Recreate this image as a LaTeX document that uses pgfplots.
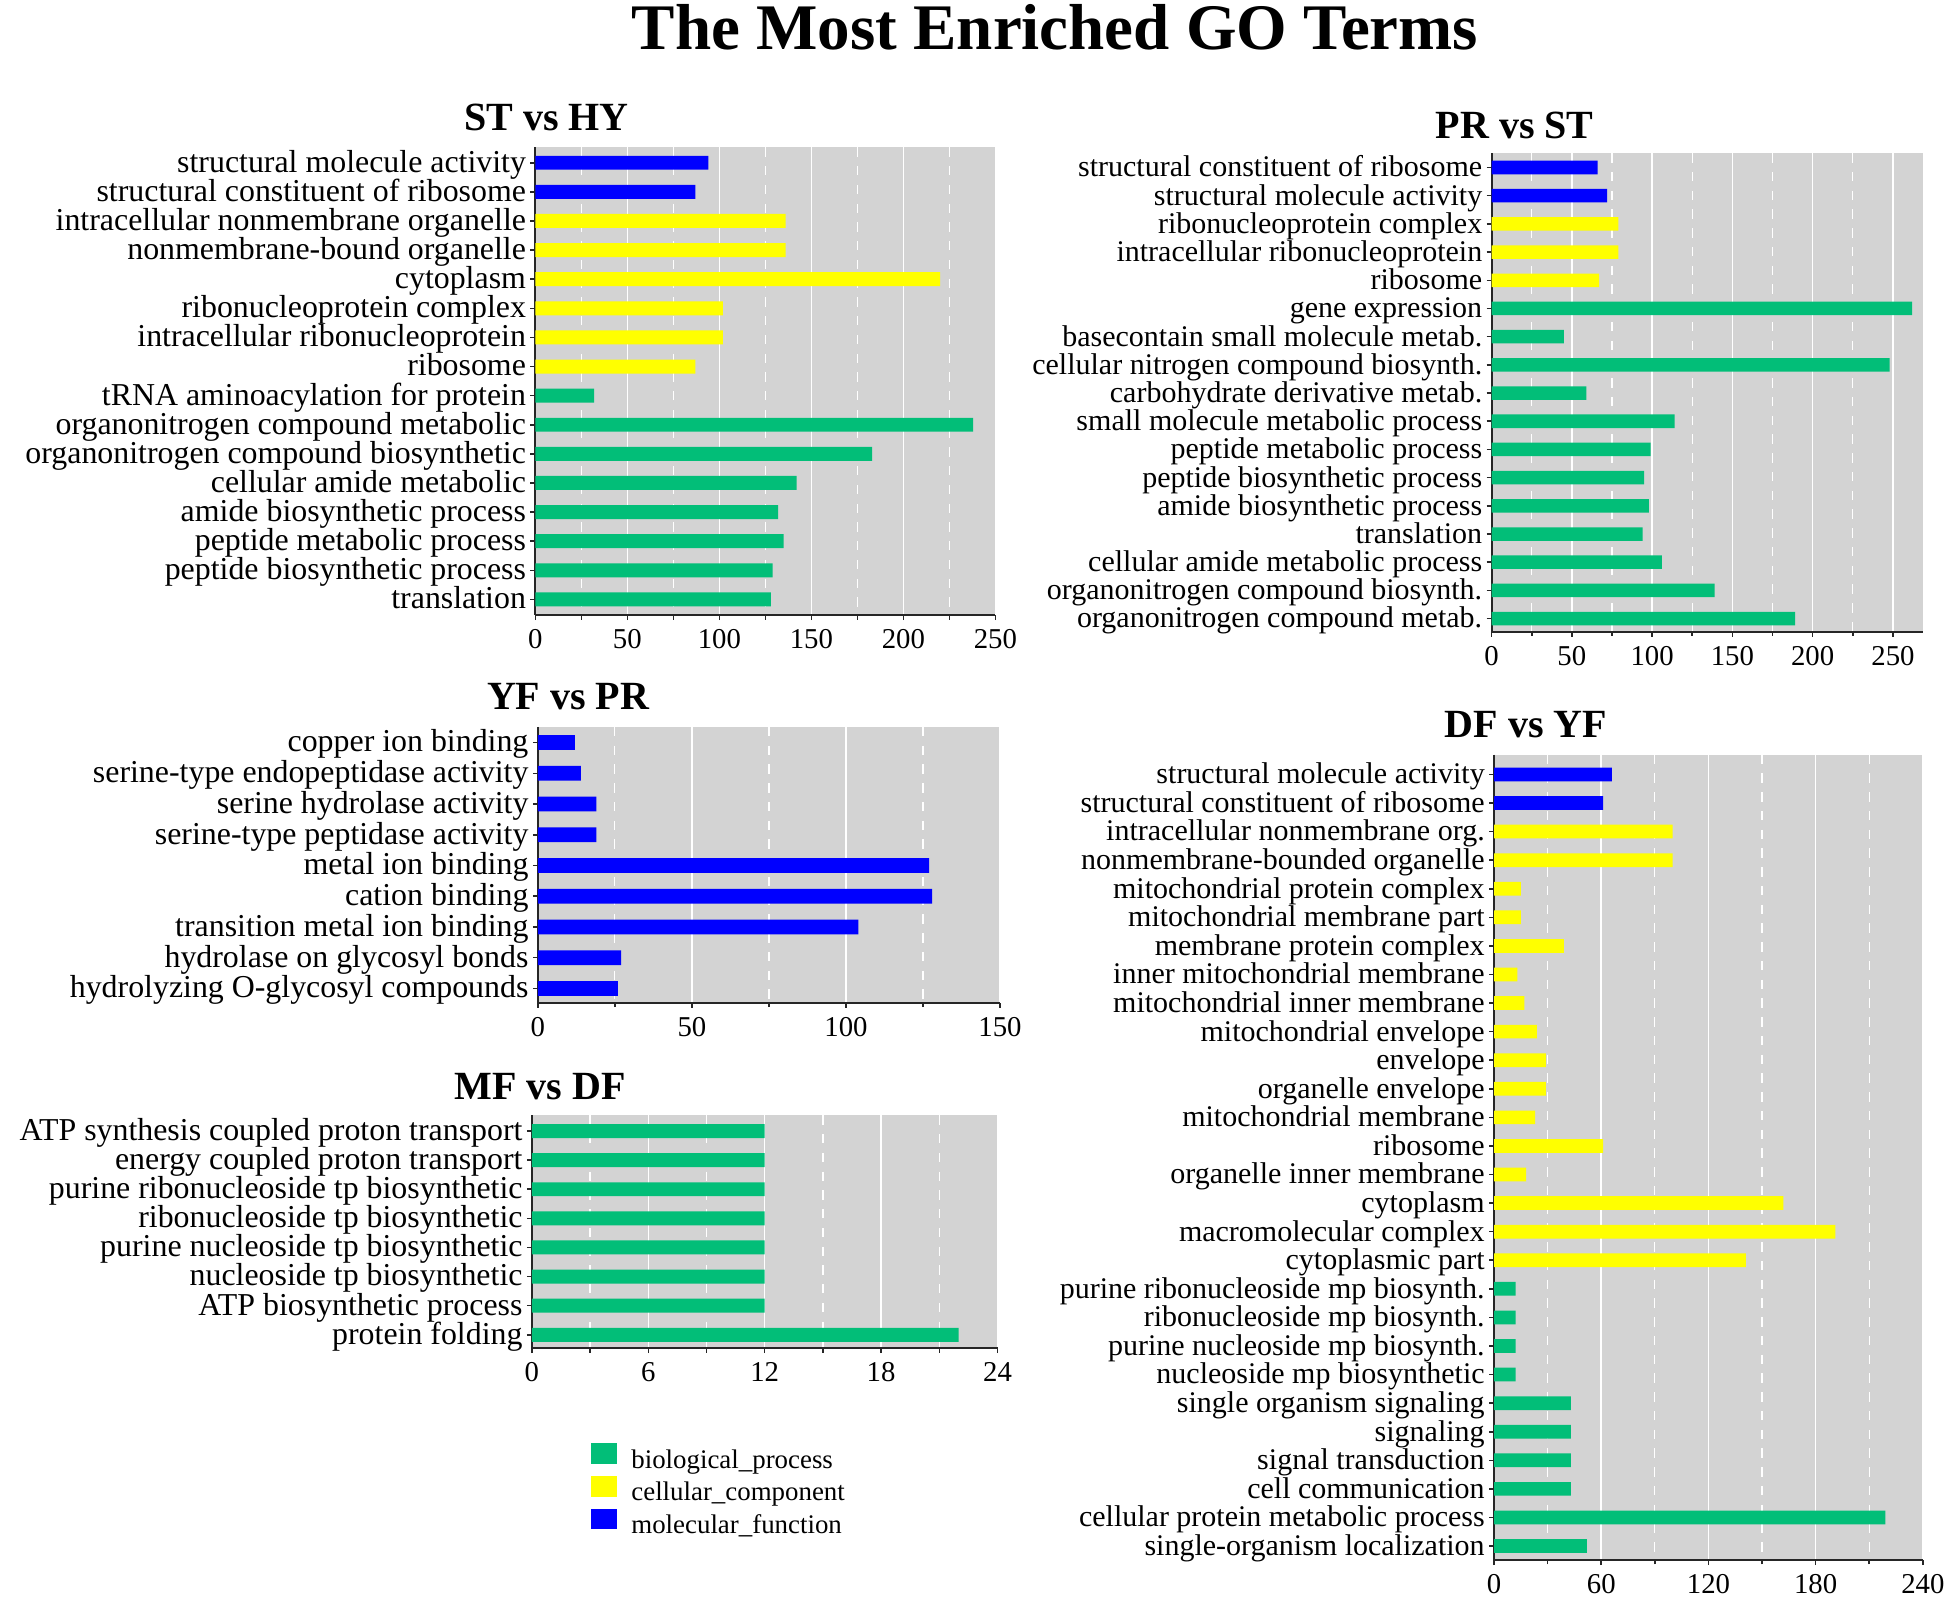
\documentclass[border=0pt]{standalone}
\usepackage{fontspec}
\setmainfont{Liberation Serif}
\usepackage{pgfplots}
\pgfplotsset{compat=1.18}
\definecolor{bpgreen}{RGB}{2,190,120}
\definecolor{ccyellow}{RGB}{255,255,0}
\definecolor{mfblue}{RGB}{0,0,255}
\definecolor{bggray}{RGB}{211,211,211}
\pgfplotsset{
  gostyle/.style={
    scale only axis,
    anchor=north west,
    xbar, bar shift=0pt, bar width=0.48,
    y dir=reverse,
    axis lines=left,
    axis line style={-, line width=0.6pt, black!85},
    axis background/.style={fill=bggray},
    xmin=0,
    tick align=outside,
    major tick length=1.6pt, minor tick length=1.4pt,
    tick style={black!85, line width=0.5pt},
    minor x tick num=1,
    xmajorgrids, xminorgrids,
    major grid style={white, line width=0.5pt},
    minor grid style={white, dashed, line width=0.4pt},
    /pgf/number format/assume math mode=true,
    xticklabel style={font=\fontsize{9.2}{10}\selectfont, inner sep=1.5pt, yshift=-1.3pt},
    yticklabel style={inner sep=0pt, xshift=-1.2pt, text height=8pt, text depth=2pt},
    every axis plot/.append style={draw=none},
  }
}
\begin{document}
\begin{tikzpicture}
\useasboundingbox (0pt,0pt) rectangle (622.72pt,-511.36pt);
\node[font=\bfseries\fontsize{20.8}{22}\selectfont, inner sep=0pt] at (337.6pt,-8.64pt) {The Most Enriched GO Terms};
\node[font=\bfseries\fontsize{12.8}{14}\selectfont, inner sep=0pt] at (174.9pt,-37.7pt) {ST vs HY};
\node[font=\bfseries\fontsize{12.8}{14}\selectfont, inner sep=0pt] at (484.7pt,-40pt) {PR vs ST};
\node[font=\bfseries\fontsize{12.8}{14}\selectfont, inner sep=0pt] at (181.8pt,-222.9pt) {YF vs PR};
\node[font=\bfseries\fontsize{12.8}{14}\selectfont, inner sep=0pt] at (172.8pt,-347.7pt) {MF vs DF};
\node[font=\bfseries\fontsize{12.8}{14}\selectfont, inner sep=0pt] at (488.3pt,-232pt) {DF vs YF};

% ST vs HY
\begin{axis}[gostyle, at={(171.3pt,-47.14pt)}, width=147.2pt, height=149.7pt,
  xmax=250, xtick={0,50,...,250}, ymin=-0.53, ymax=15.54,
  ytick={0,...,15},
  yticklabel style={font=\fontsize{10.2}{11}\selectfont},
  yticklabels={structural molecule activity, structural constituent of ribosome, intracellular nonmembrane organelle, nonmembrane-bound organelle, cytoplasm, ribonucleoprotein complex, intracellular ribonucleoprotein, ribosome, tRNA aminoacylation for protein, organonitrogen compound metabolic, organonitrogen compound biosynthetic, cellular amide metabolic\ , amide biosynthetic process, peptide metabolic process, peptide biosynthetic process, translation}]
\addplot[fill=mfblue] coordinates {(94,0) (87,1)};
\addplot[fill=ccyellow] coordinates {(136,2) (136,3) (220,4) (102,5) (102,6) (87,7)};
\addplot[fill=bpgreen] coordinates {(32,8) (238,9) (183,10) (142,11) (132,12) (135,13) (129,14) (128,15)};
\end{axis}

% PR vs ST
\begin{axis}[gostyle, at={(477.3pt,-49.0pt)}, width=138.2pt, height=153.1pt,
  xmax=269, xtick={0,50,...,250}, ymin=-0.51, ymax=16.46,
  ytick={0,...,16},
  yticklabel style={font=\fontsize{9.6}{11}\selectfont},
  yticklabels={structural constituent of ribosome, structural molecule activity, ribonucleoprotein complex, intracellular ribonucleoprotein, ribosome, gene expression, basecontain small molecule metab., cellular nitrogen compound biosynth., carbohydrate derivative metab., small molecule metabolic process, peptide metabolic process, peptide biosynthetic process, amide biosynthetic process, translation, cellular amide metabolic process, organonitrogen compound biosynth., organonitrogen compound metab.}]
\addplot[fill=mfblue] coordinates {(66,0) (72,1)};
\addplot[fill=ccyellow] coordinates {(79,2) (79,3) (67,4)};
\addplot[fill=bpgreen] coordinates {(262,5) (45,6) (248,7) (59,8) (114,9) (99,10) (95,11) (98,12) (94,13) (106,14) (139,15) (189,16)};
\end{axis}

% YF vs PR
\begin{axis}[gostyle, at={(172.1pt,-232.6pt)}, width=147.9pt, height=88.3pt,
  xmax=150, xtick={0,50,...,150}, ymin=-0.51, ymax=8.47,
  ytick={0,...,8},
  yticklabel style={font=\fontsize{10.2}{11}\selectfont},
  yticklabels={copper ion binding, serine-type endopeptidase activity, serine hydrolase activity, serine-type peptidase activity, metal ion binding, cation binding, transition metal ion binding, hydrolase on glycosyl bonds, hydrolyzing O-glycosyl compounds}]
\addplot[fill=mfblue] coordinates {(12,0) (14,1) (19,2) (19,3) (127,4) (128,5) (104,6) (27,7) (26,8)};
\end{axis}

% MF vs DF
\begin{axis}[gostyle, at={(170.2pt,-356.9pt)}, width=149.0pt, height=74.5pt,
  xmax=24, xtick={0,6,...,24}, ymin=-0.54, ymax=7.46,
  ytick={0,...,7},
  yticklabel style={font=\fontsize{10.2}{11}\selectfont},
  yticklabels={ATP synthesis coupled proton transport, energy coupled proton transport, purine ribonucleoside tp biosynthetic, ribonucleoside tp biosynthetic, purine nucleoside tp biosynthetic, nucleoside tp biosynthetic, ATP biosynthetic process, protein folding},
  legend style={at={(0.1265,-0.405)}, anchor=north west, draw=none, fill=none,
    inner sep=0pt, font=\fontsize{8.6}{10}\selectfont, row sep=-0.5pt, column sep=4.5pt,
    nodes={inner sep=0pt, text height=6.8pt, text depth=3.0pt}},
  legend cell align=left]
\addlegendimage{legend image code/.code={\fill[bpgreen] (0pt,-0.5pt) rectangle (8.3pt,6.1pt);}}
\addlegendimage{legend image code/.code={\fill[ccyellow] (0pt,-0.5pt) rectangle (8.3pt,6.1pt);}}
\addlegendimage{legend image code/.code={\fill[mfblue] (0pt,-0.5pt) rectangle (8.3pt,6.1pt);}}
\addplot[fill=bpgreen] coordinates {(12,0) (12,1) (12,2) (12,3) (12,4) (12,5) (12,6) (22,7)};
\legend{biological\_process, cellular\_component, molecular\_function}
\end{axis}

% DF vs YF
\begin{axis}[gostyle, at={(478.1pt,-241.5pt)}, width=137.2pt, height=257.7pt,
  xmax=240, xtick={0,60,...,240}, ymin=-0.69, ymax=27.49,
  ytick={0,...,27},
  yticklabel style={font=\fontsize{9.6}{11}\selectfont},
  yticklabels={structural molecule activity, structural constituent of ribosome, intracellular nonmembrane org., nonmembrane-bounded organelle, mitochondrial protein complex, mitochondrial membrane part, membrane protein complex, inner mitochondrial membrane, mitochondrial inner membrane, mitochondrial envelope, envelope, organelle envelope, mitochondrial membrane, ribosome, organelle inner membrane, cytoplasm, macromolecular complex, cytoplasmic part, purine ribonucleoside mp biosynth., ribonucleoside mp biosynth., purine nucleoside mp biosynth., nucleoside mp biosynthetic, single organism signaling, signaling, signal transduction, cell communication, cellular protein metabolic process, single-organism localization}]
\addplot[fill=mfblue] coordinates {(66,0) (61,1)};
\addplot[fill=ccyellow] coordinates {(100,2) (100,3) (15,4) (15,5) (39,6) (13,7) (17,8) (24,9) (29,10) (29,11) (23,12) (61,13) (18,14) (162,15) (191,16) (141,17)};
\addplot[fill=bpgreen] coordinates {(12,18) (12,19) (12,20) (12,21) (43,22) (43,23) (43,24) (43,25) (219,26) (52,27)};
\end{axis}
\end{tikzpicture}
\end{document}
